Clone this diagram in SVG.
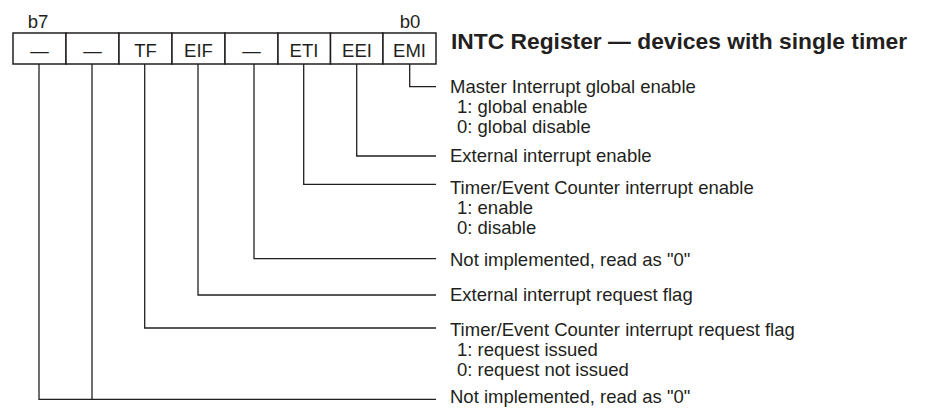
<svg xmlns="http://www.w3.org/2000/svg" width="930" height="410" viewBox="0 0 930 410">
  <style>
    text { font-family: "Liberation Sans", Arial, sans-serif; fill: #231f20; }
    .t { font-size: 18.5px; }
    .c { font-size: 18.5px; text-anchor: middle; }
    .title { font-size: 22.8px; font-weight: bold; }
    .cell { fill: #ffffff; stroke: #231f20; stroke-width: 1.5; }
    .conn { fill: none; stroke: #231f20; stroke-width: 1.3; }
  </style>
  <rect width="930" height="410" fill="#ffffff"/>

  <g id="bit-labels">
    <text class="c" x="38" y="28">b7</text>
    <text class="c" x="410" y="28">b0</text>
  </g>

  <g id="title">
    <text class="title" x="451" y="48.5">INTC Register — devices with single timer</text>
  </g>

  <g id="register">
    <g id="bit7"><rect class="cell" x="13" y="33" width="53" height="31"/><text class="c" x="39.5" y="56.5">—</text></g>
    <g id="bit6"><rect class="cell" x="66" y="33" width="53" height="31"/><text class="c" x="92.5" y="56.5">—</text></g>
    <g id="bit5"><rect class="cell" x="119" y="33" width="53" height="31"/><text class="c" x="145.5" y="56.5">TF</text></g>
    <g id="bit4"><rect class="cell" x="172" y="33" width="53" height="31"/><text class="c" x="198.5" y="56.5">EIF</text></g>
    <g id="bit3"><rect class="cell" x="225" y="33" width="53" height="31"/><text class="c" x="251.5" y="56.5">—</text></g>
    <g id="bit2"><rect class="cell" x="278" y="33" width="52.5" height="31"/><text class="c" x="304" y="56.5">ETI</text></g>
    <g id="bit1"><rect class="cell" x="330.5" y="33" width="52.5" height="31"/><text class="c" x="357" y="56.5">EEI</text></g>
    <g id="bit0"><rect class="cell" x="383" y="33" width="53" height="31"/><text class="c" x="409.5" y="56.5">EMI</text></g>
  </g>

  <g id="connectors">
    <polyline class="conn" points="409.7,64 409.7,86.7 436,86.7"/>
    <polyline class="conn" points="356.7,64 356.7,156 436,156"/>
    <polyline class="conn" points="303.7,64 303.7,184.3 436,184.3"/>
    <polyline class="conn" points="254,64 254,258.7 436,258.7"/>
    <polyline class="conn" points="198,64 198,295 436,295"/>
    <polyline class="conn" points="144.7,64 144.7,328 436,328"/>
    <polyline class="conn" points="92,64 92,399.3"/>
    <polyline class="conn" points="39,64 39,399.3 436,399.3"/>
  </g>

  <g id="desc-emi">
    <text class="t" x="450" y="93">Master Interrupt global enable</text>
    <text class="t" x="457" y="113">1: global enable</text>
    <text class="t" x="457" y="133">0: global disable</text>
  </g>
  <g id="desc-eei">
    <text class="t" x="450" y="162">External interrupt enable</text>
  </g>
  <g id="desc-eti">
    <text class="t" x="450" y="194">Timer/Event Counter interrupt enable</text>
    <text class="t" x="457" y="214">1: enable</text>
    <text class="t" x="457" y="234">0: disable</text>
  </g>
  <g id="desc-bit3">
    <text class="t" x="450" y="266">Not implemented, read as "0"</text>
  </g>
  <g id="desc-eif">
    <text class="t" x="450" y="301">External interrupt request flag</text>
  </g>
  <g id="desc-tf">
    <text class="t" x="450" y="336">Timer/Event Counter interrupt request flag</text>
    <text class="t" x="457" y="356">1: request issued</text>
    <text class="t" x="457" y="376">0: request not issued</text>
  </g>
  <g id="desc-bit76">
    <text class="t" x="450" y="403">Not implemented, read as "0"</text>
  </g>
</svg>
